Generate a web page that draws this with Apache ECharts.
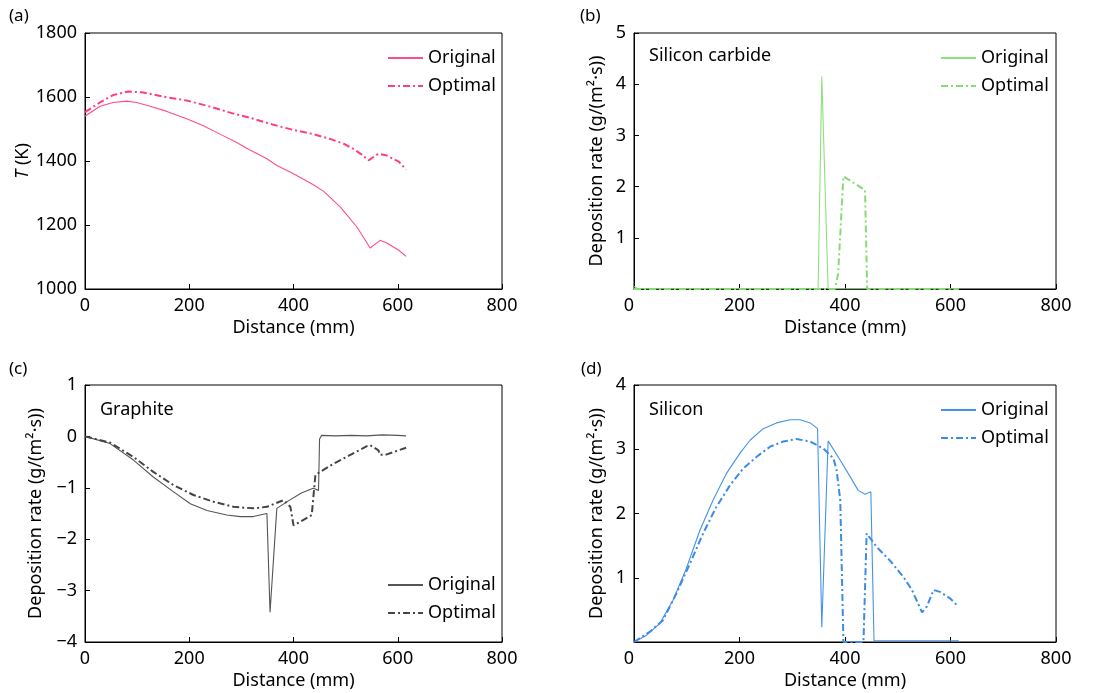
<!DOCTYPE html>
<html>
<head>
<meta charset="utf-8">
<script src="https://cdn.jsdelivr.net/npm/echarts@6/dist/echarts.min.js"></script>
<style>
  html, body { margin: 0; padding: 0; background: #fff; }
  #main { width: 1095px; height: 693px; }
</style>
</head>
<body>
<div id="main"></div>
<script>
// (a) temperature
var aOrigX = [0, 29, 54, 80, 99, 125, 157, 195, 227, 259, 291, 310, 349, 368, 400, 438, 458, 490, 522, 541, 547, 566, 579, 602, 616];
var aOrigY = [1540, 1571, 1583, 1587, 1583, 1571, 1555, 1532, 1510, 1484, 1458, 1440, 1407, 1386, 1360, 1326, 1305, 1256, 1193, 1144, 1128, 1152, 1144, 1121, 1102];
var aOptX = [0, 29, 54, 83, 112, 157, 195, 240, 285, 323, 362, 400, 438, 470, 496, 515, 531, 544, 563, 579, 602, 616];
var aOptY = [1553, 1583, 1606, 1617, 1614, 1599, 1589, 1570, 1548, 1532, 1513, 1497, 1484, 1469, 1454, 1438, 1420, 1402, 1423, 1417, 1398, 1373];

// (b) silicon carbide
var bOrigX = [0, 10, 349, 356, 368, 616];
var bOrigY = [0.05, 0, 0, 4.15, 0, 0];
var bOptX = [0, 381, 387, 397, 438, 442, 616];
var bOptY = [0, 0, 0.3, 2.2, 1.93, 0, 0];

// (c) graphite
var cOrigX = [0, 48, 93, 131, 170, 202, 234, 272, 298, 323, 349, 355, 368, 391, 415, 438, 448, 450, 454, 480, 510, 540, 570, 600, 616];
var cOrigY = [0, -0.14, -0.46, -0.79, -1.08, -1.31, -1.44, -1.53, -1.56, -1.56, -1.50, -3.42, -1.40, -1.25, -1.10, -1.01, -1.05, -0.05, 0.02, 0.01, 0.02, 0.01, 0.03, 0.02, 0.01];
var cOptX = [0, 48, 93, 131, 170, 208, 246, 285, 323, 349, 381, 394, 400, 413, 435, 442, 451, 477, 509, 541, 547, 563, 566, 579, 616];
var cOptY = [0, -0.12, -0.40, -0.69, -0.95, -1.14, -1.27, -1.37, -1.40, -1.37, -1.24, -1.37, -1.73, -1.66, -1.53, -0.75, -0.69, -0.53, -0.36, -0.19, -0.17, -0.27, -0.36, -0.35, -0.22];

// (d) silicon
var dOrigX = [0, 23, 49, 74, 99, 125, 150, 175, 201, 220, 245, 270, 296, 315, 334, 348, 356, 368, 391, 410, 425, 438, 449, 455, 616];
var dOrigY = [0, 0.10, 0.29, 0.65, 1.14, 1.74, 2.21, 2.62, 2.94, 3.14, 3.32, 3.41, 3.46, 3.46, 3.41, 3.32, 0.23, 3.13, 2.83, 2.57, 2.36, 2.30, 2.34, 0.02, 0.02];
var dOptX = [0, 30, 55, 80, 106, 131, 156, 182, 207, 232, 258, 283, 308, 334, 359, 378, 384, 391, 397, 435, 441, 460, 485, 511, 527, 546, 555, 568, 580, 599, 615];
var dOptY = [0, 0.16, 0.34, 0.75, 1.22, 1.69, 2.10, 2.44, 2.70, 2.88, 3.04, 3.12, 3.16, 3.12, 3.01, 2.86, 2.68, 2.21, 0, 0, 1.69, 1.48, 1.27, 1.01, 0.81, 0.46, 0.55, 0.81, 0.78, 0.68, 0.55];

var seriesNames = ['Original', 'Optimal'];
var panelLabels = ['(a)', '(b)', '(c)', '(d)'];
var materialNames = ['', 'Silicon carbide', 'Graphite', 'Silicon'];

var FONT = 'Noto Sans';
var dashDot = [7, 3, 2, 3];

function zip(xs, ys) {
	var out = [];
	for (var i = 0; i < xs.length; i++) out.push([xs[i], ys[i]]);
	return out;
}

var grids = [
	{ left: 85, top: 33, width: 417, height: 256 },
	{ left: 634, top: 33, width: 422, height: 256 },
	{ left: 85, top: 385, width: 417, height: 257 },
	{ left: 634, top: 385, width: 422, height: 257 }
];
grids.forEach(function (g) {
	g.show = true;
	g.borderColor = '#000';
	g.borderWidth = 1;
	g.backgroundColor = 'transparent';
});

var yNames = ['{i|T} (K)', 'Deposition rate (g/(m\u00b2\u00b7s))', 'Deposition rate (g/(m\u00b2\u00b7s))', 'Deposition rate (g/(m\u00b2\u00b7s))'];
var yRanges = [[1000, 1800, 200], [0, 5, 1], [-4, 1, 1], [0, 4, 1]];
var yNameGaps = [52, 28, 40, 28];
var hideZero = [false, true, false, true];

function xAxis(i) {
	return {
		type: 'value', gridIndex: i, min: 0, max: 800, interval: 200,
		name: 'Distance (mm)', nameLocation: 'middle', nameGap: 30,
		nameTextStyle: { fontFamily: FONT, fontSize: 18, color: '#000' },
		axisLine: { show: true, onZero: false, lineStyle: { color: '#000', width: 1 } },
		axisTick: { show: true, inside: true, length: 5, lineStyle: { color: '#000' } },
		splitLine: { show: false },
		axisLabel: {
			fontFamily: FONT, fontSize: 18, color: '#000', margin: 8,
			alignMinLabel: hideZero[i] ? 'right' : 'center'
		}
	};
}

function yAxis(i) {
	var r = yRanges[i];
	return {
		type: 'value', gridIndex: i, min: r[0], max: r[1], interval: r[2],
		name: yNames[i], nameLocation: 'middle', nameGap: yNameGaps[i],
		nameTextStyle: {
			fontFamily: FONT, fontSize: 18, color: '#000',
			rich: { i: { fontFamily: FONT, fontSize: 18, fontStyle: 'italic', color: '#000' } }
		},
		axisLine: { show: true, onZero: false, lineStyle: { color: '#000', width: 1 } },
		axisTick: { show: true, inside: true, length: 5, lineStyle: { color: '#000' } },
		splitLine: { show: false },
		axisLabel: {
			fontFamily: FONT, fontSize: 18, color: '#000', margin: 8,
			formatter: function (v) {
				if (hideZero[i] && v === 0) return '';
				return String(v).replace('-', '\u2212');
			}
		}
	};
}

var colors = [
	['#ff4d89', '#ff3d7f'],
	['#8ee07e', '#86dc74'],
	['#555555', '#444444'],
	['#4493ea', '#3a8ce6']
];
var data = [
	[zip(aOrigX, aOrigY), zip(aOptX, aOptY)],
	[zip(bOrigX, bOrigY), zip(bOptX, bOptY)],
	[zip(cOrigX, cOrigY), zip(cOptX, cOptY)],
	[zip(dOrigX, dOrigY), zip(dOptX, dOptY)]
];

var series = [];
var legends = [];
var legendPos = [
	{ left: 387, top: 48 },
	{ left: 940, top: 48 },
	{ left: 387, top: 575 },
	{ left: 940, top: 400 }
];
for (var i = 0; i < 4; i++) {
	series.push({
		name: seriesNames[0] + ' ' + i, type: 'line', xAxisIndex: i, yAxisIndex: i,
		data: data[i][0], showSymbol: false, symbol: 'none',
		lineStyle: { color: colors[i][0], width: 1.1, type: 'solid' },
		itemStyle: { color: colors[i][0] }
	});
	series.push({
		name: seriesNames[1] + ' ' + i, type: 'line', xAxisIndex: i, yAxisIndex: i,
		data: data[i][1], showSymbol: false, symbol: 'none',
		lineStyle: { color: colors[i][1], width: 2, type: dashDot },
		itemStyle: { color: colors[i][1] }
	});
	legends.push({
		data: [seriesNames[0] + ' ' + i, seriesNames[1] + ' ' + i],
		orient: 'vertical', left: legendPos[i].left, top: legendPos[i].top,
		padding: 0,
		itemStyle: { opacity: 0 },
		itemWidth: 35, itemHeight: 14, itemGap: 8, selectedMode: false,
		formatter: function (name) { return name.split(' ')[0]; },
		textStyle: { fontFamily: FONT, fontSize: 18, color: '#000', lineHeight: 20 }
	});
}

var graphics = [];
var labelPos = [[9, 19], [580, 19], [9, 372], [581, 372]];
panelLabels.forEach(function (t, k) {
	graphics.push({ type: 'text', left: labelPos[k][0], top: labelPos[k][1] - 11,
		style: { text: t, font: '17px "' + FONT + '"', fill: '#000' } });
});
var matPos = [null, [649, 59], [100, 413], [649, 413]];
materialNames.forEach(function (t, k) {
	if (!t) return;
	graphics.push({ type: 'text', left: matPos[k][0], top: matPos[k][1] - 12,
		style: { text: t, font: '18px "' + FONT + '"', fill: '#000' } });
});

var chart = echarts.init(document.getElementById('main'));
chart.setOption({
	animation: false,
	backgroundColor: '#fff',
	grid: grids,
	xAxis: [0, 1, 2, 3].map(xAxis),
	yAxis: [0, 1, 2, 3].map(yAxis),
	legend: legends,
	series: series,
	graphic: graphics
});
</script>
</body>
</html>
